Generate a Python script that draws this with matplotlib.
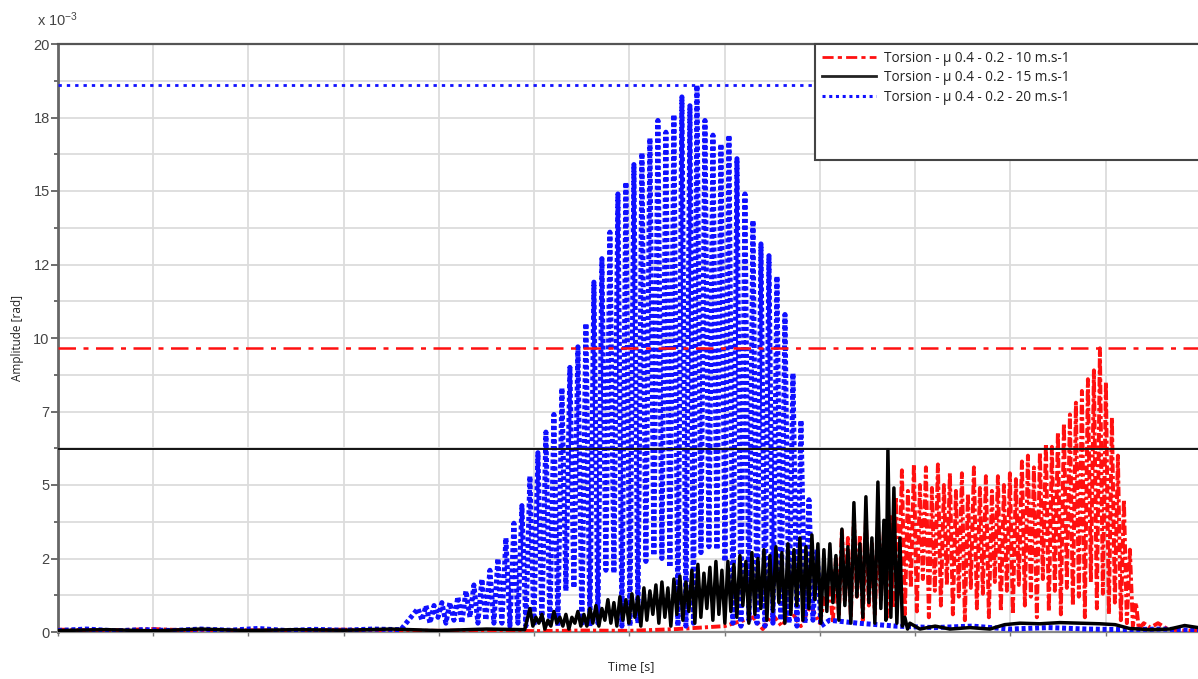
import numpy as np
import matplotlib
matplotlib.use("Agg")
import matplotlib.pyplot as plt
from matplotlib.patches import Rectangle
from matplotlib.lines import Line2D

# ---------------- data (amplitude in 1e-3 rad, time in grid units) ----------------
series_labels = ["Torsion - µ 0.4 - 0.2 - 10 m.s-1",
                 "Torsion - µ 0.4 - 0.2 - 15 m.s-1",
                 "Torsion - µ 0.4 - 0.2 - 20 m.s-1"]

y_ticks = [0, 2.5, 5, 7.5, 10, 12.5, 15, 17.5, 20]
y_tick_labels = ["0", "2", "5", "7", "10", "12", "15", "18", "20"]

max_red = 9.65
max_black = 6.22
max_blue = 18.6

# ---- 20 m/s (blue) ----
blue_pre_t = [0.0, 0.3, 0.6, 0.9, 1.2, 1.5, 1.8, 2.1, 2.4, 2.7, 3.0, 3.3, 3.6]
blue_pre_v = [0.05, 0.1, 0.04, 0.08, 0.05, 0.1, 0.06, 0.12, 0.05, 0.09, 0.06, 0.1, 0.08]
blue_peak_t = [3.780, 3.864, 3.948, 4.031, 4.115, 4.199, 4.283, 4.367, 4.451, 4.535,
               4.619, 4.703, 4.787, 4.871, 4.955, 5.039, 5.123, 5.207, 5.291, 5.375,
               5.459, 5.543, 5.627, 5.711, 5.795, 5.879, 5.963, 6.047, 6.131, 6.215,
               6.299, 6.383, 6.467, 6.551, 6.635, 6.709, 6.793, 6.877, 6.961, 7.045,
               7.129, 7.213, 7.297, 7.381, 7.465, 7.549, 7.633, 7.717, 7.801, 7.885,
               7.969]
blue_peak_v = [0.8, 0.9, 0.9, 1.0, 1.0, 1.2, 1.4, 1.6, 1.8, 2.1,
               2.5, 3.2, 3.7, 4.3, 5.3, 6.1, 6.8, 7.4, 8.3, 9.0,
               9.7, 10.5, 11.9, 12.7, 13.6, 14.9, 15.3, 15.9, 16.3, 16.8,
               17.4, 17.0, 17.6, 18.2, 17.9, 18.6, 17.4, 16.9, 16.6, 16.9,
               16.1, 14.9, 14.0, 13.2, 12.8, 12.1, 10.8, 8.8, 7.2, 4.5,
               2.8]
blue_trough_t = [3.822, 3.906, 3.990, 4.073, 4.157, 4.241, 4.325, 4.409, 4.493, 4.577,
                 4.661, 4.745, 4.829, 4.913, 4.997, 5.081, 5.165, 5.249, 5.333, 5.417,
                 5.501, 5.585, 5.669, 5.753, 5.837, 5.921, 6.005, 6.089, 6.173, 6.257,
                 6.341, 6.425, 6.509, 6.593, 6.672, 6.751, 6.835, 6.919, 7.003, 7.087,
                 7.171, 7.255, 7.339, 7.423, 7.507, 7.591, 7.675, 7.759, 7.843, 7.927,
                 8.011]
blue_trough_v = [0.4, 0.3, 0.5, 0.3, 0.4, 0.3, 0.5, 0.3, 0.4, 0.3,
                 0.3, 0.2, 0.3, 0.2, 0.2, 0.3, 0.2, 0.2, 1.4, 1.5,
                 0.2, 0.2, 0.3, 2.1, 2.0, 0.2, 0.2, 0.3, 2.4, 2.6,
                 2.5, 2.2, 0.2, 0.2, 0.3, 2.7, 2.9, 2.8, 2.4, 0.3,
                 0.2, 0.4, 0.3, 0.2, 0.3, 0.4, 0.3, 0.2, 0.3, 0.4,
                 0.2]
blue_post_t = [8.1, 8.4, 8.8, 9.2, 9.6, 10.0, 10.4, 10.8, 11.2, 11.6, 11.97]
blue_post_v = [0.4, 0.3, 0.2, 0.15, 0.2, 0.1, 0.15, 0.1, 0.08, 0.1, 0.05]

# ---- 15 m/s (black) ----
black_pre_t = [0.0, 0.5, 1.0, 1.5, 2.0, 2.5, 3.0, 3.5, 4.0, 4.5, 4.9]
black_pre_v = [0.05, 0.08, 0.04, 0.1, 0.05, 0.08, 0.06, 0.1, 0.05, 0.1, 0.08]
black_peak_t = [4.955, 5.018, 5.081, 5.144, 5.207, 5.270, 5.333, 5.396, 5.459, 5.522,
                5.585, 5.648, 5.711, 5.774, 5.837, 5.900, 5.963, 6.026, 6.089, 6.152,
                6.215, 6.278, 6.341, 6.404, 6.467, 6.530, 6.593, 6.656, 6.719, 6.782,
                6.845, 6.908, 6.971, 7.034, 7.097, 7.160, 7.223, 7.286, 7.349, 7.412,
                7.475, 7.538, 7.601, 7.664, 7.727, 7.790, 7.853, 7.916, 7.979, 8.042,
                8.105, 8.168, 8.231, 8.294, 8.357, 8.420, 8.483, 8.546, 8.609, 8.672,
                8.714, 8.777, 8.840, 8.892]
black_peak_v = [0.8, 0.5, 0.6, 0.4, 0.7, 0.5, 0.6, 0.5, 0.7, 0.6,
                0.8, 0.9, 0.8, 1.1, 1.0, 1.2, 1.1, 1.3, 1.2, 1.5,
                1.4, 1.6, 1.7, 1.5, 1.8, 1.9, 1.7, 2.1, 2.3, 2.0,
                2.2, 2.4, 2.1, 2.4, 2.3, 2.6, 2.4, 2.7, 2.5, 2.8,
                2.6, 2.9, 2.7, 3.0, 2.8, 3.2, 2.9, 3.3, 3.0, 2.8,
                3.0, 2.6, 3.5, 2.9, 4.4, 3.0, 4.6, 3.2, 5.1, 3.8,
                6.2, 4.9, 3.2, 0.5]
black_trough_t = [4.986, 5.049, 5.112, 5.175, 5.238, 5.301, 5.364, 5.427, 5.490, 5.553,
                  5.616, 5.679, 5.742, 5.805, 5.868, 5.931, 5.994, 6.057, 6.120, 6.183,
                  6.246, 6.309, 6.372, 6.435, 6.498, 6.561, 6.624, 6.687, 6.750, 6.813,
                  6.876, 6.939, 7.002, 7.065, 7.128, 7.191, 7.254, 7.317, 7.380, 7.443,
                  7.506, 7.569, 7.632, 7.695, 7.758, 7.821, 7.884, 7.947, 8.010, 8.073,
                  8.136, 8.199, 8.262, 8.325, 8.388, 8.451, 8.514, 8.577, 8.640, 8.693,
                  8.745, 8.808, 8.866, 8.920]
black_trough_v = [0.2, 0.3, 0.1, 0.2, 0.3, 0.2, 0.1, 0.3, 0.2, 0.2,
                  0.3, 0.2, 0.4, 0.3, 0.2, 0.4, 0.3, 0.5, 0.2, 0.4,
                  0.6, 0.3, 0.5, 0.2, 0.6, 0.4, 0.7, 0.3, 0.5, 0.8,
                  0.4, 0.6, 0.3, 0.7, 0.5, 0.9, 0.3, 0.6, 0.8, 0.4,
                  0.7, 1.0, 0.3, 0.6, 0.9, 0.4, 0.8, 1.1, 0.3, 0.7,
                  1.0, 0.4, 0.9, 0.3, 1.2, 0.5, 1.0, 0.3, 0.8, 0.4,
                  0.5, 0.3, 0.2, 0.1]
black_post_t = [8.945, 9.05, 9.21, 9.365, 9.575, 9.785, 9.94, 10.1, 10.31, 10.52,
                10.73, 10.94, 11.1, 11.25, 11.46, 11.67, 11.83, 11.97]
black_post_v = [0.3, 0.1, 0.2, 0.1, 0.15, 0.1, 0.25, 0.3, 0.28, 0.32,
                0.3, 0.28, 0.25, 0.12, 0.08, 0.1, 0.22, 0.15]

# ---- 10 m/s (red) ----
red_pre_t = [0.0, 0.5, 1.0, 1.5, 2.0, 2.5, 3.0, 3.5, 4.0, 4.5, 5.0, 5.5, 6.0, 6.5,
             7.0, 7.3, 7.4, 7.5, 7.6, 7.7, 7.8, 7.9, 8.0, 8.05]
red_pre_v = [0.08, 0.05, 0.1, 0.04, 0.06, 0.05, 0.08, 0.05, 0.04, 0.06, 0.03, 0.05, 0.04, 0.1,
             0.2, 0.5, 0.1, 0.6, 0.2, 0.7, 0.2, 0.9, 0.3, 1.2]
red_peak_t = [8.105, 8.168, 8.231, 8.294, 8.357, 8.420, 8.483, 8.546, 8.609, 8.672,
              8.735, 8.798, 8.861, 8.924, 8.987, 9.050, 9.113, 9.176, 9.239, 9.302,
              9.365, 9.428, 9.491, 9.554, 9.617, 9.680, 9.743, 9.806, 9.869, 9.932,
              9.995, 10.058, 10.121, 10.184, 10.247, 10.310, 10.373, 10.436, 10.499, 10.562,
              10.625, 10.688, 10.751, 10.814, 10.877, 10.940, 11.003, 11.066, 11.129, 11.192,
              11.255, 11.318]
red_peak_v = [1.5, 2.5, 3.5, 3.2, 3.9, 3.3, 3.8, 3.0, 3.6, 3.4,
              4.0, 4.6, 5.5, 4.8, 5.7, 5.0, 5.6, 4.9, 5.7, 5.0,
              5.4, 4.8, 5.4, 4.7, 5.6, 4.9, 5.3, 4.8, 5.3, 5.0,
              5.4, 5.2, 5.8, 6.0, 5.6, 6.1, 6.4, 6.3, 6.8, 7.1,
              7.4, 7.8, 8.2, 8.6, 8.9, 9.65, 8.5, 7.3, 6.0, 4.5,
              2.8, 1.0]
red_trough_t = [8.136, 8.199, 8.262, 8.325, 8.388, 8.451, 8.514, 8.577, 8.640, 8.703,
                8.766, 8.829, 8.892, 8.955, 9.018, 9.081, 9.144, 9.207, 9.270, 9.333,
                9.396, 9.459, 9.522, 9.585, 9.648, 9.711, 9.774, 9.837, 9.900, 9.963,
                10.026, 10.089, 10.152, 10.215, 10.278, 10.341, 10.404, 10.467, 10.530, 10.593,
                10.656, 10.719, 10.782, 10.845, 10.908, 10.971, 11.034, 11.097, 11.160, 11.223,
                11.286, 11.349]
red_trough_v = [0.3, 0.6, 1.0, 0.5, 1.2, 0.4, 0.9, 0.6, 1.1, 0.5,
                0.8, 1.3, 0.6, 1.5, 0.7, 1.8, 0.5, 1.4, 0.9, 1.6,
                0.6, 1.2, 0.4, 1.5, 0.8, 1.3, 0.5, 1.7, 0.7, 1.4,
                0.6, 1.6, 0.9, 1.2, 0.5, 1.8, 0.7, 1.4, 0.6, 1.5,
                0.9, 1.2, 0.5, 1.7, 0.8, 1.3, 0.6, 1.0, 0.4, 0.3,
                0.2, 0.1]
red_post_t = [11.40, 11.47, 11.55, 11.65, 11.8, 11.97]
red_post_v = [0.3, 0.15, 0.3, 0.1, 0.05, 0.05]


def build(pre_t, pre_v, pk_t, pk_v, tr_t, tr_v, post_t, post_v):
    t = np.array(pre_t + pk_t + tr_t + post_t)
    v = np.array(pre_v + pk_v + tr_v + post_v)
    order = np.argsort(t, kind="stable")
    return t[order], v[order]


red_t, red_v = build(red_pre_t, red_pre_v, red_peak_t, red_peak_v,
                     red_trough_t, red_trough_v, red_post_t, red_post_v)
black_t, black_v = build(black_pre_t, black_pre_v, black_peak_t, black_peak_v,
                         black_trough_t, black_trough_v, black_post_t, black_post_v)
blue_t, blue_v = build(blue_pre_t, blue_pre_v, blue_peak_t, blue_peak_v,
                       blue_trough_t, blue_trough_v, blue_post_t, blue_post_v)

# ---------------- figure ----------------
plt.rcParams['mathtext.default'] = 'regular'
W, H = 1198, 679
fig = plt.figure(figsize=(W / 100, H / 100), dpi=100)
ax = fig.add_axes([58 / W, 1 - 632 / H, 1 - 58 / W, (632 - 44) / H])
ax.set_xlim(0, 11.97)
ax.set_ylim(0, 20)

RED = '#ff1010'
BLUE = '#1010ff'
BLACK = '#000000'

ax.plot(red_t, red_v, color=RED, ls=(0, (2.4, 0.8, 0.8, 0.8)), lw=2.8, zorder=3)
ax.plot(blue_t, blue_v, color=BLUE, ls=(0, (0.8, 0.55)), lw=3.6, zorder=3)
ax.plot(black_t, black_v, color=BLACK, ls='-', lw=2.5, zorder=3)

ax.axhline(max_blue, color=BLUE, ls=(0, (1.2, 1.8)), lw=2.0, zorder=3)
ax.axhline(max_red, color=RED, ls=(0, (7, 3, 2, 3)), lw=1.8, zorder=3)
ax.axhline(max_black, color='#111111', ls='-', lw=1.4, zorder=3)

# ticks / grid
ax.set_yticks(y_ticks, labels=y_tick_labels)
ax.set_yticks(np.arange(0, 20.01, 1.25), minor=True)
ax.set_xticks(np.arange(0, 12, 1))
ax.set_xticklabels([])
ax.grid(True, which='both', color='#dcdcdc', lw=1.3, zorder=0)
ax.set_axisbelow(True)
ax.tick_params(axis='y', which='major', length=5, width=1.2, color='#555555',
               labelsize=10.5, labelcolor='#444444', pad=1)
ax.tick_params(axis='y', which='minor', length=3, width=1.2, color='#555555')
ax.tick_params(axis='x', which='major', length=3, width=1.0, color='#777777')
for lab in ax.get_yticklabels():
    lab.set_fontfamily('Liberation Sans')

ax.spines['right'].set_visible(False)
ax.spines['left'].set_color('#666666')
ax.spines['left'].set_linewidth(2.0)
ax.spines['top'].set_color('#555555')
ax.spines['top'].set_linewidth(1.6)
ax.spines['bottom'].set_color('#888888')
ax.spines['bottom'].set_linewidth(1.6)

# labels
fig.text(37 / W, 1 - 20 / H, r'x 10$^{-3}$', fontsize=10.5, color='#444444',
         family='Liberation Sans', ha='left', va='center')
fig.text(18 / W, 1 - 338 / H, 'Amplitude [rad]', rotation=90, fontsize=8.5,
         family='Open Sans', ha='center', va='center', color='#222222')
fig.text(631 / W, 1 - 667 / H, 'Time [s]', fontsize=9, family='Open Sans',
         ha='center', va='center', color='#222222')

# legend box
x0 = (815 - 58) / (W - 58)
y0 = (632 - 160) / (632 - 44)
box = Rectangle((x0, y0), 1.01 - x0, 1.0 - y0, transform=ax.transAxes,
                facecolor='white', edgecolor='#444444', lw=1.5, zorder=6, clip_on=False)
ax.add_patch(box)
handles = [Line2D([], [], color=RED, ls=(0, (4, 1.5, 1.5, 1.5)), lw=2.0),
           Line2D([], [], color='#222222', ls='-', lw=2.0),
           Line2D([], [], color=BLUE, ls=(0, (1, 1.2)), lw=2.2)]
leg = ax.legend(handles, series_labels, loc='upper left', bbox_to_anchor=(x0, 1.0),
                frameon=False, prop={'family': 'Open Sans', 'size': 9.8},
                handlelength=4.0, handletextpad=0.6, labelspacing=0.32,
                borderaxespad=0.0, borderpad=0.5)
leg.set_zorder(10)
for txt in leg.get_texts():
    txt.set_color('#222222')

fig.savefig('out.png', dpi=100)
